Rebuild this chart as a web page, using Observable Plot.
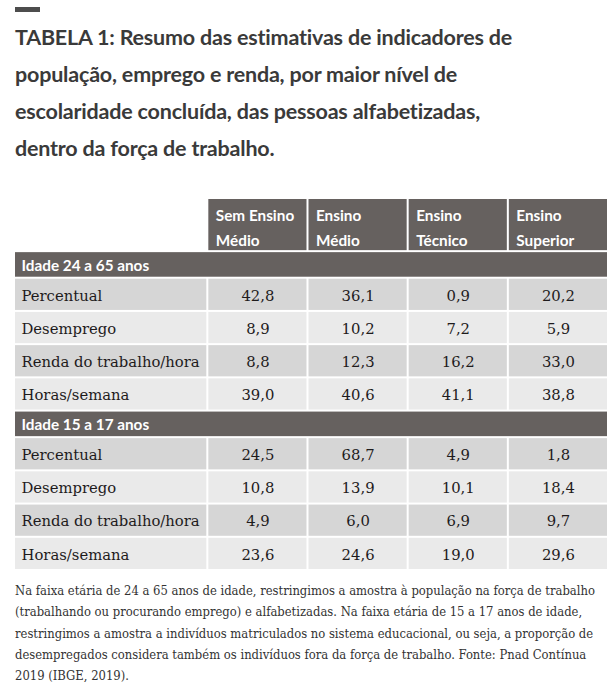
<!DOCTYPE html>
<html>
<head>
<meta charset="utf-8">
<script src="https://cdn.jsdelivr.net/npm/d3@7"></script>
<script src="https://cdn.jsdelivr.net/npm/@observablehq/plot@0.6"></script>
<style>
  html, body { margin: 0; padding: 0; background: #fff; }
  body { width: 615px; height: 682px; position: relative; overflow: hidden; }
  #bar { position: absolute; left: 15px; top: 7px; width: 25px; height: 5px; background: #4d4d4d; }
  #title { position: absolute; left: 15px; top: 19px; margin: 0; font-family: Lato, sans-serif; font-weight: 700; font-size: 21.5px; line-height: 37px; color: #3a3a3a; letter-spacing: -0.2px; white-space: nowrap; }
  #chart { position: absolute; left: 0; top: 190px; }
  #caption { position: absolute; left: 15px; top: 580px; margin: 0; font-family: "DejaVu Serif Condensed", "DejaVu Serif", serif; font-size: 12.9px; line-height: 21.3px; color: #333; white-space: nowrap; }
</style>
</head>
<body>
<div id="bar"></div>
<div id="title"></div>
<div id="chart"></div>
<div id="caption"></div>
<script>
// ---- data ----
const titleLines = [
  "TABELA 1: Resumo das estimativas de indicadores de",
  "população, emprego e renda, por maior nível de",
  "escolaridade concluída, das pessoas alfabetizadas,",
  "dentro da força de trabalho."
];
const columns = ["Sem Ensino\nMédio", "Ensino\nMédio", "Ensino\nTécnico", "Ensino\nSuperior"];
const groups = ["Idade 24 a 65 anos", "Idade 15 a 17 anos"];
const indicators = ["Percentual", "Desemprego", "Renda do trabalho/hora", "Horas/semana"];
const values2465 = [
  [42.8, 36.1, 0.9, 20.2],
  [8.9, 10.2, 7.2, 5.9],
  [8.8, 12.3, 16.2, 33.0],
  [39.0, 40.6, 41.1, 38.8]
];
const values1517 = [
  [24.5, 68.7, 4.9, 1.8],
  [10.8, 13.9, 10.1, 18.4],
  [4.9, 6.0, 6.9, 9.7],
  [23.6, 24.6, 19.0, 29.6]
];
const captionLines = [
  "Na faixa etária de 24 a 65 anos de idade, restringimos a amostra à população na força de trabalho",
  "(trabalhando ou procurando emprego) e alfabetizadas. Na faixa etária de 15 a 17 anos de idade,",
  "restringimos a amostra a indivíduos matriculados no sistema educacional, ou seja, a proporção de",
  "desempregados considera também os indivíduos fora da força de trabalho. Fonte: Pnad Contínua",
  "2019 (IBGE, 2019)."
];

// ---- layout (table units) ----
const labelW = 1.93, colW = 1;
const headerH = 8, bandH = 4, rowH = 5;
const fmt = v => d3.format(".1f")(v).replace(".", ",");

document.getElementById("title").innerHTML = titleLines.join("<br>");
document.getElementById("caption").innerHTML = captionLines.join("<br>");

// build table structure
const rects = [];
const texts = [];
let y = 0;
columns.forEach((c, i) => {
  rects.push({x1: labelW + i * colW, x2: labelW + (i + 1) * colW, y1: y, y2: y + headerH, kind: "dark"});
  texts.push({x: labelW + i * colW, y: y, text: c, kind: "head"});
});
y += headerH;
[values2465, values1517].forEach((vals, g) => {
  rects.push({x1: 0, x2: labelW + columns.length * colW, y1: y, y2: y + bandH, kind: "dark"});
  texts.push({x: 0, y: y + bandH / 2, text: groups[g], kind: "band"});
  y += bandH;
  indicators.forEach((ind, r) => {
    const kind = r % 2 === 0 ? "rowA" : "rowB";
    rects.push({x1: 0, x2: labelW, y1: y, y2: y + rowH, kind});
    texts.push({x: 0, y: y + rowH / 2, text: ind, kind: "label"});
    vals[r].forEach((v, i) => {
      rects.push({x1: labelW + i * colW, x2: labelW + (i + 1) * colW, y1: y, y2: y + rowH, kind});
      texts.push({x: labelW + (i + 0.5) * colW, y: y + rowH / 2, text: fmt(v), kind: "value"});
    });
    y += rowH;
  });
});
const totalH = y;
const totalW = labelW + columns.length * colW;

const fills = {dark: "#66615f", rowA: "#d6d6d6", rowB: "#eaeaea"};

const chart = Plot.plot({
  width: 615,
  height: 385,
  margin: 0,
  x: {type: "linear", domain: [0, totalW], range: [14, 608], axis: null},
  y: {type: "linear", domain: [0, totalH], range: [8, 380], axis: null},
  marks: [
    Plot.rect(rects, {x1: "x1", x2: "x2", y1: "y1", y2: "y2", fill: d => fills[d.kind], inset: 1}),
    Plot.text(texts.filter(d => d.kind === "head"), {
      x: "x", y: "y", text: "text", textAnchor: "start", lineAnchor: "top", lineHeight: 1.66,
      dx: 8, dy: 4, fill: "#fff", fontFamily: "Lato, sans-serif", fontWeight: 700, fontSize: 15.3
    }),
    Plot.text(texts.filter(d => d.kind === "band"), {
      x: "x", y: "y", text: "text", textAnchor: "start", dx: 7, dy: 1,
      fill: "#fff", fontFamily: "Lato, sans-serif", fontWeight: 700, fontSize: 15.3
    }),
    Plot.text(texts.filter(d => d.kind === "label"), {
      x: "x", y: "y", text: "text", textAnchor: "start", dx: 7, dy: 1,
      fill: "#1e1b1c", fontFamily: "DejaVu Serif, serif", fontSize: 14.8
    }),
    Plot.text(texts.filter(d => d.kind === "value"), {
      x: "x", y: "y", text: "text", textAnchor: "middle", dy: 1,
      fill: "#1e1b1c", fontFamily: "DejaVu Serif, serif", fontSize: 14.8
    })
  ]
});
document.getElementById("chart").appendChild(chart);
</script>
</body>
</html>
